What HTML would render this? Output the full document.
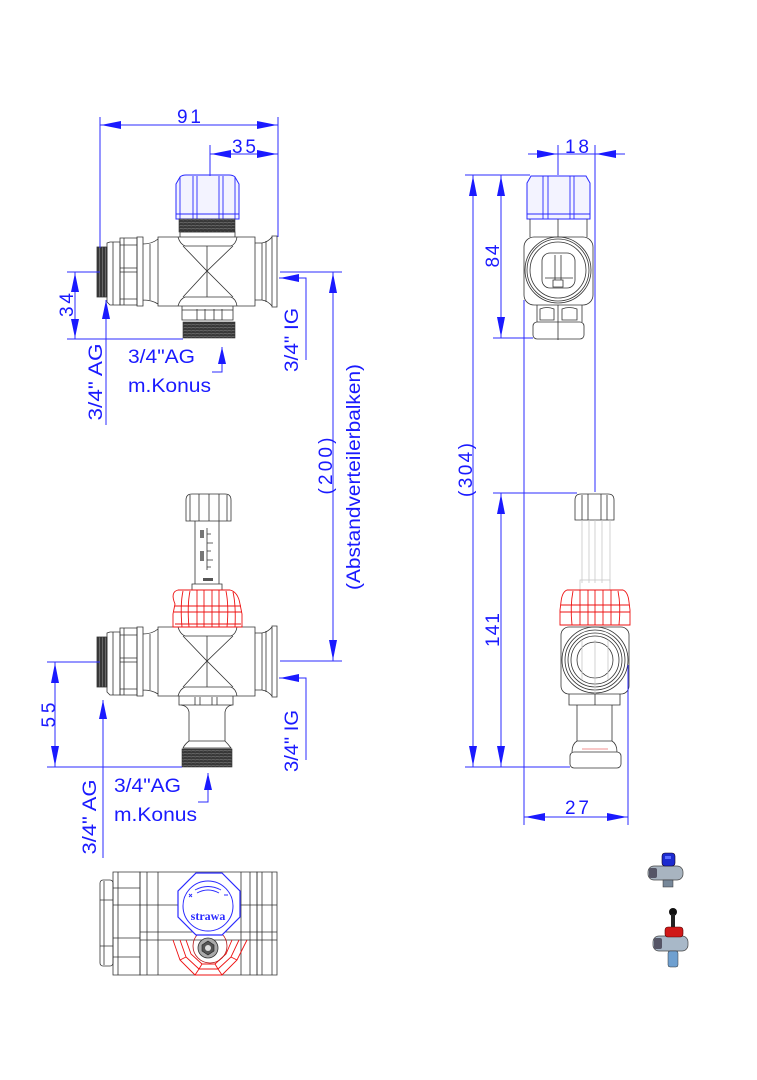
<!DOCTYPE html>
<html><head><meta charset="utf-8">
<style>
html,body{margin:0;padding:0;background:#fff;}
svg{display:block}
.d{stroke:#2b2bff;stroke-width:1;fill:none}
.a{fill:#1a1aff;stroke:none}
.m{stroke:#333;stroke-width:0.8;fill:none}
.g{stroke:#c8c8c8;stroke-width:0.8;fill:none}
.b{stroke:#2a2aff;stroke-width:0.9;fill:none}
.r{stroke:#ee1111;stroke-width:0.9;fill:none}
.t{font-family:"Liberation Sans",Arial,sans-serif;fill:#1a1aff;font-size:19px}
.n{font-family:"Liberation Sans",Arial,sans-serif;fill:#1a1aff;font-size:19px}
</style></head><body>
<svg width="757" height="1080" viewBox="0 0 757 1080" xmlns="http://www.w3.org/2000/svg" xmlns:xlink="http://www.w3.org/1999/xlink">
<defs>
<pattern id="thrV" width="3" height="4" patternUnits="userSpaceOnUse"><rect width="3" height="4" fill="#383838"/><line x1="0.5" y1="0" x2="0.5" y2="4" stroke="#8a8a8a" stroke-width="0.6"/></pattern>
<pattern id="thrH" width="4" height="3" patternUnits="userSpaceOnUse"><rect width="4" height="3" fill="#383838"/><line x1="0" y1="0.5" x2="4" y2="1" stroke="#8a8a8a" stroke-width="0.6"/></pattern>
<g id="body">
  <rect x="97" y="-24" width="10" height="50" fill="url(#thrV)" stroke="#333" stroke-width="0.8"/>
  <path class="m" d="M107,-28 L110,-29 H120 V34 H110 L107,31 Z M113,-29 V34"/>
  <path class="m" d="M120,-33 H137 V34 H120 Z M120,-3 H137 M120,1 H137 M124,-33 V34 M120,-26 H137 M120,28 H137"/>
  <path class="m" d="M137,-34 H143 V35 H137 Z M143,-27 Q152,-27 158,-32 M143,29 Q152,29 158,33 M150,-27 V29"/>
  <path class="m" d="M158,-34 H255 V35 H158 Z"/>
  <path class="m" d="M178,-34 Q180,-27 185,-25 H231 Q236,-27 237,-34 M178,35 Q180,28 185,26 H231 Q236,28 237,35 M183,-25 L207,0 L233,-25 M183,26 L207,0 L233,26 M207,-25 V26"/>
  <path class="m" d="M255,-28 H262 V29 H255 M262,-28 Q268,-29 272,-34 M262,29 Q268,30 272,35 M272,-35 H277 V36 H272 Z M266,-30 V31"/>
</g>
</defs>

<!-- ============ VIEW A (top front) ============ -->
<use href="#body" xlink:href="#body" transform="translate(0,271)"/>
<path d="M176,219 V184 L180,177 Q182,175 186,175 H229 Q233,175 235,177 L239,184 V219 Z" fill="#f3f3ff" stroke="#2a2aff" stroke-width="1"/>
<path class="b" d="M180,177 V219 M193,176 V219 M197,176 V219 M219,176 V219 M223,176 V219 M235,177 V219 M176,214 H239"/>
<rect x="179" y="219" width="56" height="13" fill="url(#thrH)" stroke="#333" stroke-width="0.6"/>
<path class="m" d="M180,232 H235 V237 M180,232 V237"/>
<path class="m" d="M182,306 V320 H233 V306 M182,310 H233 M197,309 V320 M205,309 V320 M214,309 V320 M222,309 V320"/>
<rect x="183" y="322" width="52" height="16" fill="url(#thrH)" stroke="#333" stroke-width="0.6"/>

<!-- ============ VIEW B (lower front) ============ -->
<use href="#body" xlink:href="#body" transform="translate(0,661)"/>
<path class="m" d="M186,521 V500 Q186,494 192,494 H225 Q231,494 231,500 V521 Z M190,495 V521 M199,494 V521 M209,494 V521 M219,494 V521 M227,495 V521" fill="#f4f4f4"/>
<path class="m" d="M195,521 V584 M219,521 V584"/>
<path class="m" stroke-width="0.6" d="M207,528 V570 M207,534 H211 M207,543 H213 M207,551 H211 M207,560 H213 M207,567 H211"/>
<rect x="200" y="530" width="4" height="8" fill="#777"/>
<rect x="200" y="551" width="4" height="10" fill="#777"/>
<rect x="203" y="578" width="10" height="3" fill="#555"/>
<path class="m" d="M192,584 H222 V590 H192 Z"/>
<path class="r" d="M178,590 H230 Q238,592 240,604 L242,614 V627 H173 V614 L175,604 Q170,592 178,590 Z" fill="#fff8f8"/>
<path class="r" stroke-width="0.7" d="M183,591 Q180,605 182,627 M190,591 Q187,606 189,627 M197,590 V627 M204,590 V627 M212,590 V627 M219,590 V627 M226,591 Q229,606 227,627 M233,592 Q236,605 235,627 M175,606 H241 M174,612 H242 M175,624 H241"/>
<path class="m" d="M179,696 V705 H233 V696 M195,697 V705 M200,697 V705 M212,697 V705 M217,697 V705"/>
<path class="m" d="M181,705 Q188,706 189,712 V741 Q185,744 183,748 H231 Q228,744 225,741 V712 Q226,706 232,705 M189,741 H225"/>
<rect x="182" y="749" width="50" height="18" fill="url(#thrH)" stroke="#333" stroke-width="0.6"/>

<!-- ============ VIEW C (side top) ============ -->
<path d="M527,219 V183 L531,176 H586 L590,183 V219 Z" fill="#f3f3ff" stroke="#2a2aff" stroke-width="1"/>
<path class="b" d="M543,176 V219 M548,176 V219 M570,176 V219 M574,176 V219 M527,214 H590"/>
<path class="m" d="M530,219 V237 M587,219 V237 M558,219 V237"/>
<rect class="m" x="524" y="237" width="69" height="68" rx="10"/>
<circle class="m" cx="558" cy="270" r="33"/>
<circle class="m" cx="558" cy="270" r="31" stroke-width="1.2"/>
<circle class="m" cx="558" cy="270" r="28"/>
<rect class="m" x="542" y="253" width="33" height="35" rx="8"/>
<path class="m" d="M555,255 V280 M561,255 V280 M545,278 H573 M553,280 H563 V287 H553 Z"/>
<path class="m" d="M537,305 V322 M582,305 V322 M558,305 V340 M540,309 Q547,306 554,309 V320 H540 Z M562,309 Q569,306 577,309 V320 H562 Z"/>
<rect class="m" x="533" y="322" width="51" height="17" rx="4"/>

<!-- ============ VIEW D (side lower) ============ -->
<path class="m" d="M575,520 V500 Q575,494 581,494 H608 Q614,494 614,500 V520 Z M582,495 V520 M588,494 V520 M601,494 V520 M607,495 V520" fill="#f4f4f4"/>
<path class="g" d="M582,520 V583 M610,520 V583 M595,520 V583 M589,520 V583 M602,520 V583"/>
<rect class="g" x="580" y="580" width="30" height="10"/>
<path class="r" d="M567,590 H623 Q628,592 629,602 L630,610 V625 H560 V610 L561,602 Q562,592 567,590 Z" fill="#fff8f8"/>
<path class="r" stroke-width="0.7" d="M573,591 Q570,606 572,625 M580,590 V625 M588,590 V625 M595,590 V625 M603,590 V625 M611,590 V625 M618,591 Q621,606 619,625 M561,605 H629 M560,612 H630"/>
<rect class="m" x="561" y="627" width="68" height="67" rx="8"/>
<circle class="m" cx="595" cy="660" r="33"/>
<circle class="m" cx="595" cy="660" r="30" stroke-width="1.3"/>
<circle class="m" cx="595" cy="660" r="27"/>
<circle class="m" cx="595" cy="660" r="24"/>
<circle class="m" cx="595" cy="660" r="18" stroke-width="1.1"/>
<path class="g" d="M595,640 V694 M582,640 V680 M608,640 V680"/>
<path class="m" d="M569,694 V705 H620 V694 M595,694 V705"/>
<path class="m" d="M577,705 V741 M612,705 V741 M572,752 Q572,744 577,741 H612 Q617,744 617,752"/>
<rect class="m" x="570" y="752" width="51" height="16" rx="4"/>
<path d="M582,749 H608" stroke="#f09090" stroke-width="1"/>

<!-- ============ VIEW E (bottom view) ============ -->
<g class="m">
  <rect x="100" y="880" width="13" height="86" rx="3"/>
  <path d="M104,881 V965 M100,900 H113 M100,946 H113"/>
  <path d="M113,872 H140 V975 H113 Z M113,888 H140 M113,905 H140 M113,938 H140 M113,957 H140 M118,872 V975"/>
  <path d="M140,872 H257 V975 H140 Z"/>
  <path d="M147,872 V975 M158,872 V975 M241,872 V975 M250,872 V975"/>
  <path d="M140,905 H277 M140,932 H277 M140,940 H277"/>
  <path d="M257,872 H277 V975 H257 Z M262,872 V975 M272,872 V975"/>
</g>
<path class="r" d="M173,940 L180,960 L195,975 H222 L237,960 L247,940 M180,940 L186,957 L199,969 H218 L231,957 L239,940 M186,940 L191,954 L202,964 H215 L226,954 L232,940 M180,960 L186,957 M195,975 L199,969 M222,975 L218,969 M237,960 L231,957 M199,969 L202,964 M218,969 L215,964"/>
<circle cx="210" cy="946" r="17" fill="none" stroke="#b01010" stroke-width="0.8"/>
<circle cx="208" cy="948" r="10" fill="#aaa" stroke="#333" stroke-width="0.8"/>
<polygon points="208,941 214,945 214,951 208,955 202,951 202,945" fill="#555" stroke="#222" stroke-width="0.6"/>
<circle cx="208" cy="948" r="3" fill="#ddd"/>
<polygon points="222,873 240,891 240,917 222,935 196,935 178,917 178,891 196,873" fill="#fff" stroke="#2a2aff" stroke-width="1.2"/>
<circle cx="208" cy="906" r="25" fill="none" stroke="#2a2aff" stroke-width="1"/>
<path class="b" d="M195,890 Q208,883 221,890 M197,893 Q208,887 219,893"/>
<path class="b" d="M189,894 l3,3 M192,894 l-3,3 M224,895 h4"/>
<text x="208" y="920" text-anchor="middle" font-family="'Liberation Serif',serif" font-size="12" font-weight="bold" fill="#2a2aff">strawa</text>

<!-- ============ DIMENSIONS ============ -->
<g class="d">
  <path d="M100,117 V248 M278,117 V237 M100,125 H278"/>
  <path d="M210,145 V176 M210,154 H278"/>
  <path d="M67,272 H100 M67,339 H183 M75,272 V339"/>
  <path d="M106,300 V425"/>
  <path d="M222,347 V372 H212"/>
  <path d="M279,278 H306 V360"/>
  <path d="M280,272 H342 M280,661 H342 M333,272 V661"/>
  <path d="M47,662 H100 M47,767 H182 M55,662 V767"/>
  <path d="M103,700 V858"/>
  <path d="M208,773 V802 H198"/>
  <path d="M279,678 H306 V760"/>
  <path d="M528,154 H625 M558,145 V175 M595,145 V492"/>
  <path d="M465,175 H530 M493,338 H533 M501,175 V338 M473,175 V767"/>
  <path d="M493,493 H577 M465,767 H570 M501,493 V767"/>
  <path d="M524,300 V825 M628,665 V825 M524,817 H628"/>
</g>
<g class="a">
  <polygon points="101,125 121,121 121,129"/>
  <polygon points="277,125 257,121 257,129"/>
  <polygon points="211,154 231,150 231,158"/>
  <polygon points="277,154 257,150 257,158"/>
  <polygon points="75,273 71,292 79,292"/>
  <polygon points="75,338 71,319 79,319"/>
  <polygon points="106,300 102,319 110,319"/>
  <polygon points="222,347 218,364 226,364"/>
  <polygon points="280,278 299,274 299,282"/>
  <polygon points="333,273 329,293 337,293"/>
  <polygon points="333,660 329,640 337,640"/>
  <polygon points="55,663 51,683 59,683"/>
  <polygon points="55,766 51,746 59,746"/>
  <polygon points="103,700 99,719 107,719"/>
  <polygon points="208,773 204,790 212,790"/>
  <polygon points="280,678 299,674 299,682"/>
  <polygon points="557,154 537,150 537,158"/>
  <polygon points="596,154 616,150 616,158"/>
  <polygon points="501,176 497,196 505,196"/>
  <polygon points="501,337 497,317 505,317"/>
  <polygon points="473,176 469,196 477,196"/>
  <polygon points="473,766 469,746 477,746"/>
  <polygon points="501,494 497,514 505,514"/>
  <polygon points="501,766 497,746 505,746"/>
  <polygon points="525,817 545,813 545,821"/>
  <polygon points="627,817 607,813 607,821"/>
</g>

<text class="n" x="189" y="123" text-anchor="middle" textLength="24" lengthAdjust="spacing">91</text>
<text class="n" x="244" y="153" text-anchor="middle" textLength="24" lengthAdjust="spacing">35</text>
<text class="n" x="577" y="153" text-anchor="middle" textLength="24" lengthAdjust="spacing">18</text>
<text class="n" x="577" y="814" text-anchor="middle" textLength="24" lengthAdjust="spacing">27</text>

<text class="n" transform="translate(73,305) rotate(-90)" text-anchor="middle" textLength="24" lengthAdjust="spacing">34</text>
<text class="n" transform="translate(55,715) rotate(-90)" text-anchor="middle" textLength="25" lengthAdjust="spacing">55</text>
<text class="n" transform="translate(499,256) rotate(-90)" text-anchor="middle" textLength="23" lengthAdjust="spacing">84</text>
<text class="n" transform="translate(499,630) rotate(-90)" text-anchor="middle" textLength="34" lengthAdjust="spacing">141</text>
<text class="n" transform="translate(332,466) rotate(-90)" text-anchor="middle" textLength="57" lengthAdjust="spacing">(200)</text>
<text class="n" transform="translate(472,470) rotate(-90)" text-anchor="middle" textLength="54" lengthAdjust="spacing">(304)</text>
<text class="t" font-size="20" transform="translate(360,477) rotate(-90)" text-anchor="middle" textLength="226" lengthAdjust="spacingAndGlyphs">(Abstandverteilerbalken)</text>

<text class="t" transform="translate(102,382) rotate(-90)" text-anchor="middle" textLength="77" lengthAdjust="spacingAndGlyphs">3/4" AG</text>
<text class="t" transform="translate(96,817) rotate(-90)" text-anchor="middle" textLength="75" lengthAdjust="spacingAndGlyphs">3/4" AG</text>
<text class="t" transform="translate(298,340) rotate(-90)" text-anchor="middle" textLength="64" lengthAdjust="spacingAndGlyphs">3/4" IG</text>
<text class="t" transform="translate(298,741) rotate(-90)" text-anchor="middle" textLength="62" lengthAdjust="spacingAndGlyphs">3/4" IG</text>

<text class="t" x="128" y="363" textLength="67" lengthAdjust="spacingAndGlyphs">3/4"AG</text>
<text class="t" x="128" y="392" textLength="83" lengthAdjust="spacingAndGlyphs">m.Konus</text>
<text class="t" x="114" y="792" textLength="67" lengthAdjust="spacingAndGlyphs">3/4"AG</text>
<text class="t" x="114" y="821" textLength="83" lengthAdjust="spacingAndGlyphs">m.Konus</text>

<!-- ============ THUMBNAILS ============ -->
<g>
  <rect x="648" y="866" width="35" height="14" rx="6" fill="#a8b4c0" stroke="#444" stroke-width="0.7"/>
  <rect x="649" y="868" width="8" height="10" rx="2" fill="#556"/>
  <rect x="663" y="880" width="10" height="7" fill="#778899" stroke="#333" stroke-width="0.5"/>
  <rect x="662" y="853" width="13" height="13" rx="3" fill="#1d2bd0" stroke="#102" stroke-width="0.6"/>
  <rect x="665" y="856" width="6" height="3" fill="#5a6cff"/>

  <circle cx="673" cy="912" r="4" fill="#111"/>
  <rect x="671" y="914" width="4" height="14" fill="#222"/>
  <rect x="653" y="936" width="35" height="15" rx="6" fill="#a8b8c8" stroke="#444" stroke-width="0.7"/>
  <rect x="654" y="938" width="8" height="11" rx="2" fill="#556"/>
  <rect x="665" y="927" width="18" height="10" rx="3" fill="#d01818" stroke="#500" stroke-width="0.6"/>
  <rect x="668" y="951" width="10" height="16" rx="2" fill="#6fa0d0" stroke="#333" stroke-width="0.5"/>
</g>
</svg>
</body></html>
